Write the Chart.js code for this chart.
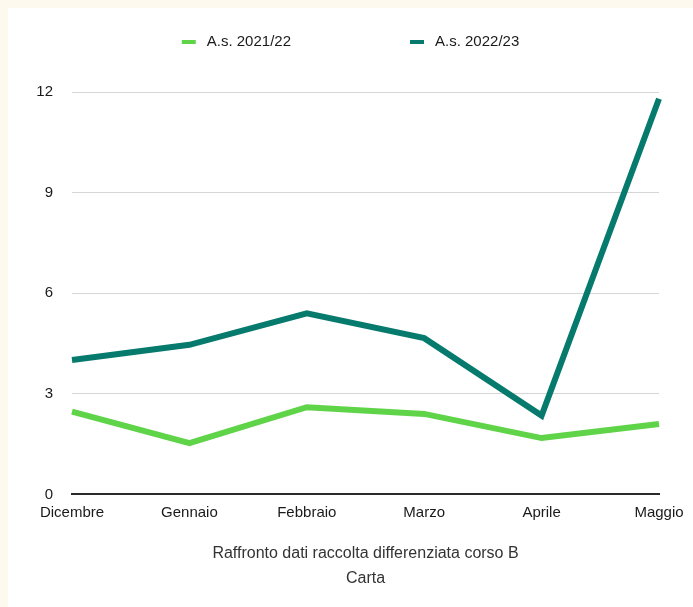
<!DOCTYPE html>
<html>
<head>
<meta charset="utf-8">
<script src="https://cdn.jsdelivr.net/npm/chart.js@4/dist/chart.umd.min.js"></script>
<style>
    html, body { margin: 0; padding: 0; background: #fef9ee; }
    #panel { position: absolute; left: 8px; top: 8px; width: 685px; height: 599px; background: #fff; }
</style>
</head>
<body>
<div id="panel"><canvas id="chart" width="685" height="599"></canvas></div>
<script>
    // Raffronto raccolta differenziata - Carta
    var months = ['Dicembre', 'Gennaio', 'Febbraio', 'Marzo', 'Aprile', 'Maggio'];
    var as2122 = [2.47, 1.53, 2.60, 2.40, 1.68, 2.10];
    var as2223 = [4.01, 4.46, 5.40, 4.66, 2.35, 11.8];
    var seriesNames = ['A.s. 2021/22', 'A.s. 2022/23'];
    var seriesColors = ['#5fd448', '#067a6c'];
    var yTicks = [0, 3, 6, 9, 12];
    var titleLines = ['Raffronto dati raccolta differenziata corso B', 'Carta'];

    var FONT = '"Liberation Sans", Arial, Helvetica, sans-serif';

    // legend row drawn on top, spaced like the original
    var legendRow = {
        id: 'legendRow',
        afterDraw: function (chart) {
            var ctx = chart.ctx;
            var sets = chart.data.datasets;
            var markW = 14, gapText = 11, gapItem = 119, y = 34;
            ctx.save();
            ctx.font = '15px ' + FONT;
            var total = 0;
            sets.forEach(function (ds, i) {
                total += markW + gapText + ctx.measureText(ds.label).width;
                if (i > 0) total += gapItem;
            });
            var x = chart.width / 2 - total / 2;
            ctx.textBaseline = 'middle';
            ctx.textAlign = 'left';
            sets.forEach(function (ds) {
                ctx.fillStyle = ds.borderColor;
                ctx.fillRect(x, y - 2, markW, 4);
                x += markW + gapText;
                ctx.fillStyle = '#1a1a1a';
                ctx.fillText(ds.label, x, y);
                x += ctx.measureText(ds.label).width + gapItem;
            });
            ctx.restore();
        }
    };

    new Chart(document.getElementById('chart'), {
        type: 'line',
        data: {
            labels: months,
            datasets: [
                {
                    label: seriesNames[0],
                    data: as2122,
                    borderColor: seriesColors[0],
                    backgroundColor: seriesColors[0],
                    borderWidth: 6,
                    pointRadius: 0,
                    tension: 0,
                    borderJoinStyle: 'miter'
                },
                {
                    label: seriesNames[1],
                    data: as2223,
                    borderColor: seriesColors[1],
                    backgroundColor: seriesColors[1],
                    borderWidth: 6,
                    pointRadius: 0,
                    tension: 0,
                    borderJoinStyle: 'miter'
                }
            ]
        },
        options: {
            responsive: false,
            animation: false,
            layout: { padding: { top: 84, right: 34, bottom: 16, left: 0 } },
            scales: {
                x: {
                    offset: false,
                    grid: { display: false, drawTicks: false },
                    border: { display: true, color: '#2a2a2a', width: 2 },
                    ticks: { color: '#1a1a1a', font: { family: FONT, size: 15 }, padding: 9, maxRotation: 0, autoSkip: false },
                    title: {
                        display: true,
                        text: titleLines,
                        color: '#333',
                        font: { family: FONT, size: 16, lineHeight: 1.55 },
                        padding: { top: 11, bottom: 0 }
                    }
                },
                y: {
                    min: 0,
                    max: 12,
                    afterBuildTicks: function (scale) {
                        scale.ticks = yTicks.map(function (v) { return { value: v }; });
                    },
                    afterFit: function (scale) { scale.width = 64; },
                    grid: { color: '#d6d6d6', lineWidth: 1, drawTicks: false },
                    border: { display: false },
                    ticks: { color: '#1a1a1a', font: { family: FONT, size: 15 }, padding: 19 }
                }
            },
            plugins: {
                legend: { display: false },
                tooltip: { enabled: false }
            }
        },
        plugins: [legendRow]
    });
</script>
</body>
</html>
